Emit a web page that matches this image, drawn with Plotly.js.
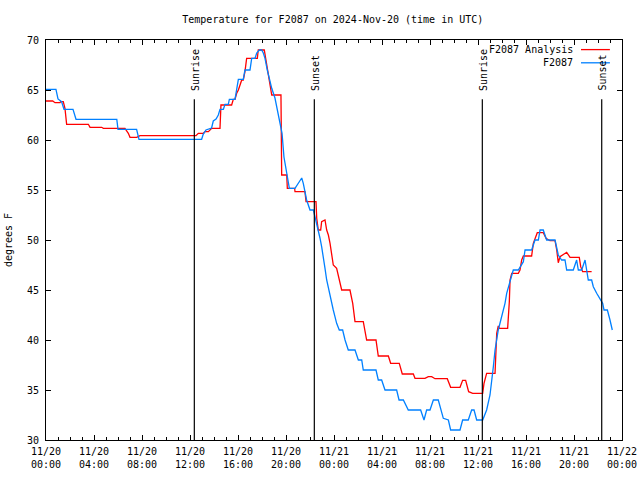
<!DOCTYPE html>
<html>
<head>
<meta charset="utf-8">
<script src="https://cdn.plot.ly/plotly-3.0.1.min.js"></script>
<style>html,body{margin:0;padding:0;background:#fff}#chart{width:640px;height:480px}</style>
</head>
<body>
<div id="chart"></div>
<script>
// hours since 2024-11-20 00:00 UTC
const analysisHours = [0,0.56,0.75,1.17,1.22,1.44,1.58,1.72,3.53,3.67,4.64,4.78,6.58,6.86,7.0,7.56,7.83,12.5,12.69,13.11,13.25,13.53,13.81,14.5,14.58,15.47,15.61,15.75,15.89,16.03,16.31,16.44,16.58,16.72,17.61,17.69,18.19,18.33,18.44,18.67,18.81,19.58,19.64,20.06,20.11,20.72,20.75,21.58,21.67,22.5,22.56,22.69,22.89,22.97,23.25,23.39,23.53,23.67,23.81,23.94,24.22,24.44,24.64,25.33,25.56,25.75,26.44,26.72,27.5,27.69,28.53,28.72,29.44,29.69,30.61,30.75,31.58,31.86,32.14,32.42,33.44,33.72,34.5,34.72,34.97,35.22,35.56,36.39,36.5,36.72,37.42,37.56,37.69,37.78,38.47,38.61,38.67,38.81,39.36,39.5,39.64,39.78,40.47,40.61,40.94,41.44,41.67,42.0,42.42,42.56,42.69,42.83,43.39,43.67,44.44,44.56,44.72,45.47];
const analysisTemp = [63.9,63.9,63.73,63.73,63.83,63.83,63.17,61.57,61.57,61.27,61.27,61.17,61.17,60.67,60.27,60.27,60.43,60.43,60.67,60.67,60.83,60.83,61.17,61.17,63.5,63.5,64.07,64.07,64.67,65.0,66.0,66.0,66.83,68.17,68.17,69.0,69.0,68.0,67.0,65.67,64.5,64.5,56.5,56.5,55.17,55.17,54.83,54.83,53.83,53.83,52.17,51.0,51.0,51.83,52.0,51.0,50.5,49.67,48.67,47.5,47.17,46.0,45.0,45.0,43.67,41.83,41.83,40.0,40.0,38.4,38.4,37.67,37.67,36.6,36.6,36.17,36.17,36.33,36.33,36.13,36.13,35.27,35.27,35.97,35.97,34.83,34.67,34.67,35.67,36.67,36.67,40.67,41.4,41.17,41.17,43.83,46.0,46.67,46.67,47.0,48.0,48.4,48.4,49.67,50.73,50.73,50.17,49.93,49.93,49.0,47.73,48.33,48.77,48.27,48.27,47.33,46.83,46.83];

const obsHours = [0,0.83,1.0,1.3,1.5,2.25,2.5,5.9,6.0,7.55,7.75,12.97,13.1,13.33,13.8,13.94,14.17,14.36,14.5,14.78,14.92,15.19,15.28,15.75,15.89,16.03,16.44,16.58,17.0,17.14,17.42,17.56,17.78,17.97,18.11,18.25,18.44,18.61,18.81,19.08,19.28,19.5,19.67,19.83,20.06,20.28,20.75,21.03,21.31,21.44,21.58,21.72,22.0,22.28,22.42,22.69,22.83,22.97,23.11,23.25,23.39,23.53,23.67,23.81,23.94,24.08,24.22,24.44,24.72,24.92,25.19,25.75,26.03,26.31,26.44,27.5,27.69,27.97,28.25,29.22,29.42,29.78,30.19,31.22,31.5,31.72,32.0,32.28,32.69,33.11,33.53,33.72,34.5,34.72,35.19,35.47,35.67,35.89,36.39,36.72,37.0,37.28,37.42,37.69,37.97,38.25,38.39,38.67,38.94,39.36,39.78,39.92,40.47,40.75,41.03,41.17,41.44,41.72,42.42,42.69,42.97,43.25,43.39,43.94,44.22,44.36,44.64,44.92,45.06,45.19,45.47,45.61,45.89,46.17,46.39,46.5,46.78,47.0,47.19];
const obsTemp = [65.07,65.07,64.1,63.83,63.07,63.07,62.07,62.07,61.07,61.07,60.07,60.07,60.57,61.0,61.2,61.9,62.1,62.5,63.07,63.07,63.57,63.57,64.07,64.07,65.07,66.07,66.07,67.0,67.0,68.17,68.17,68.7,69.0,69.0,68.7,68.17,67.0,66.07,65.17,64.2,63.0,61.8,60.67,58.3,56.5,55.17,55.17,55.67,56.2,55.67,54.73,54.0,53.0,53.0,52.3,51.0,50.2,49.33,48.0,47.17,46.0,45.17,44.5,43.67,43.0,42.33,41.67,41.0,41.0,40.0,39.0,39.0,38.0,38.0,37.0,37.0,36.0,36.0,35.0,35.0,34.0,34.0,33.0,33.0,32.0,33.0,33.0,34.0,34.0,32.17,32.0,31.0,31.0,32.0,32.0,33.0,33.0,32.0,32.0,33.0,34.5,37.33,39.0,41.0,42.33,43.67,44.67,46.0,47.0,47.0,47.83,49.0,49.0,50.0,50.0,51.0,51.0,50.0,50.0,48.5,48.0,48.0,47.0,47.0,48.0,47.0,47.0,48.0,47.0,46.0,46.0,45.33,44.67,44.17,43.67,43.0,43.0,42.0,41.0];

const sunHours = [12.36, 22.36, 36.36, 46.31];
const sunLabels = ["Sunrise", "Sunset", "Sunrise", "Sunset"];

const tickHours = [0,4,8,12,16,20,24,28,32,36,40,44,48];
const tickLabels = ["11/20<br>00:00","11/20<br>04:00","11/20<br>08:00","11/20<br>12:00","11/20<br>16:00","11/20<br>20:00","11/21<br>00:00","11/21<br>04:00","11/21<br>08:00","11/21<br>12:00","11/21<br>16:00","11/21<br>20:00","11/22<br>00:00"];

const seriesNames = ["F2087 Analysis", "F2087"];
const seriesColors = ["#ff0000", "#0080ff"];

const FONT = "DejaVu Sans Mono, monospace";

const traces = [
  {x: analysisHours, y: analysisTemp, name: seriesNames[0], type: "scatter", mode: "lines",
   line: {color: seriesColors[0], width: 1.3}},
  {x: obsHours, y: obsTemp, name: seriesNames[1], type: "scatter", mode: "lines",
   line: {color: seriesColors[1], width: 1.3}}
];

const shapes = [];
const annotations = [];
sunHours.forEach((h, i) => {
  shapes.push({type: "line", xref: "x", yref: "paper", x0: h, x1: h, y0: 0, y1: 0.852,
    line: {color: "#000", width: 1.2}});
  annotations.push({xref: "x", yref: "paper", x: h, y: 0.868, text: sunLabels[i],
    textangle: -90, showarrow: false, xanchor: "center", yanchor: "bottom", xshift: 1,
    font: {family: FONT, size: 10, color: "#000"}});
});

// gnuplot-style key: text right-aligned, sample line to the right
const keyY = [0.976, 0.943];
seriesNames.forEach((n, i) => {
  annotations.push({xref: "paper", yref: "paper", x: 0.9185, y: keyY[i], text: n,
    showarrow: false, xanchor: "right", yanchor: "middle",
    font: {family: FONT, size: 10, color: "#000"}});
  shapes.push({type: "line", xref: "paper", yref: "paper", x0: 0.9288, x1: 0.979,
    y0: keyY[i], y1: keyY[i], line: {color: seriesColors[i], width: 1.3}});
});

const layout = {
  width: 640, height: 480,
  margin: {l: 46, r: 18, t: 40, b: 40},
  paper_bgcolor: "#fff", plot_bgcolor: "#fff",
  font: {family: FONT, size: 10, color: "#000"},
  showlegend: false,
  title: {text: "Temperature for F2087 on 2024-Nov-20 (time in UTC)",
    font: {family: FONT, size: 10, color: "#000"},
    xref: "container", x: 0.52, xanchor: "center", yref: "container", y: 0.96, yanchor: "middle"},
  xaxis: {range: [0, 48], tickmode: "array", tickvals: tickHours, ticktext: tickLabels,
    showline: true, linecolor: "#000", linewidth: 1, mirror: "ticks",
    ticks: "inside", ticklen: 5, tickcolor: "#000", tickwidth: 1,
    showgrid: false, zeroline: false, ticklabelstandoff: 2,
    minor: {tickmode: "linear", tick0: 0, dtick: 1, ticks: "inside", ticklen: 3, tickcolor: "#000", showgrid: false},
    tickfont: {family: FONT, size: 10, color: "#000"}},
  yaxis: {range: [30, 70], tickmode: "linear", tick0: 30, dtick: 5,
    showline: true, linecolor: "#000", linewidth: 1, mirror: "ticks",
    ticks: "inside", ticklen: 5, tickcolor: "#000", tickwidth: 1,
    showgrid: false, zeroline: false, ticklabelstandoff: 4,
    tickfont: {family: FONT, size: 10, color: "#000"},
    title: {text: "degrees F", standoff: 12, font: {family: FONT, size: 10, color: "#000"}}},
  shapes: shapes,
  annotations: annotations
};

Plotly.newPlot("chart", traces, layout, {staticPlot: true, displayModeBar: false});
</script>
</body>
</html>
